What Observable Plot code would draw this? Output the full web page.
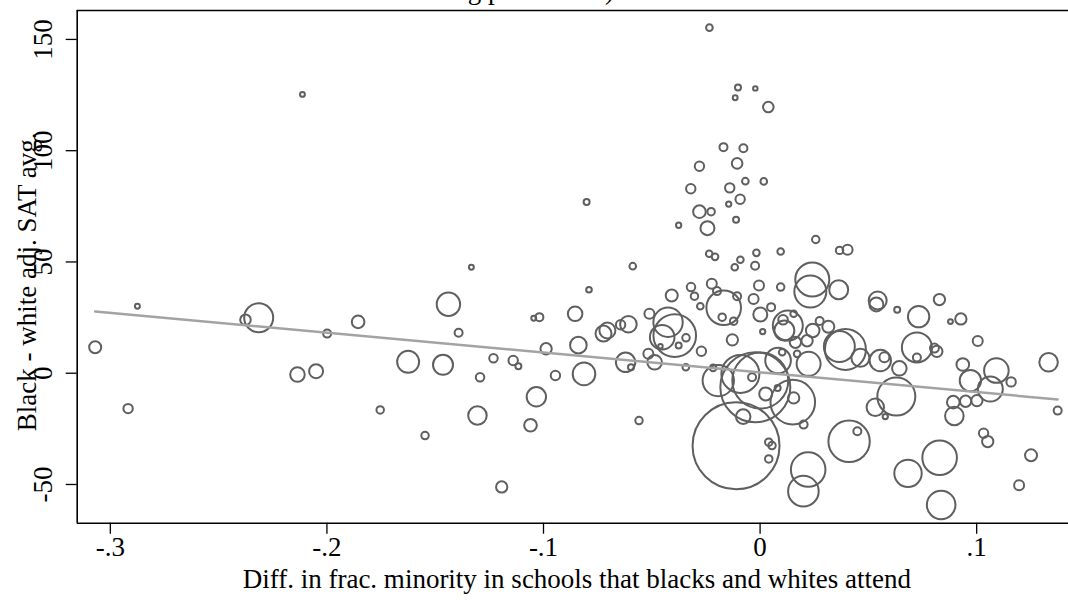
<!DOCTYPE html>
<html>
<head>
<meta charset="utf-8">
<script src="https://cdn.jsdelivr.net/npm/d3@7"></script>
<script src="https://cdn.jsdelivr.net/npm/@observablehq/plot@0.6"></script>
<style>
  html, body { margin: 0; padding: 0; background: #fff; }
  #wrap { position: relative; width: 1068px; height: 600px; overflow: hidden; }
  #title { position: absolute; left: 0; top: 0; }
</style>
</head>
<body>
<div id="wrap"></div>
<script>
// Difference in fraction minority in schools that blacks and whites attend
const diffMinority = [
  -0.307, -0.2875, -0.2918, -0.2376, -0.2315, -0.1999, -0.1856, -0.2136, -0.205, -0.1754,
  -0.2113, -0.1333, -0.1439, -0.1392, -0.1625, -0.1464, -0.1231, -0.1293, -0.114, -0.1116,
  -0.1547, -0.1305, -0.1193, -0.1033, -0.106, -0.0945, -0.0988, -0.1045, -0.1019, -0.0854,
  -0.079, -0.0839, -0.0813, -0.0723, -0.0705, -0.0644, -0.0608, -0.0621, -0.0596, -0.0511,
  -0.0425, -0.0394, -0.0452, -0.0376, -0.0342, -0.046, -0.0516, -0.0487, -0.0408, -0.0319,
  -0.0303, -0.0276, -0.0223, -0.0199, -0.0168, -0.0175, -0.0122, -0.0106, -0.003, -0.0005,
  0.0095, 0.0001, 0.0051, 0.0012, -0.0128, -0.0217, -0.0343, -0.0271, -0.0193, -0.0091,
  -0.0022, 0.0001, 0.0026, 0.0081, -0.0037, -0.0078, 0.0151, 0.0155, 0.0201, 0.0083,
  0.0224, -0.0111, 0.004, 0.0055, 0.004, -0.0559, 0.0222, 0.02, 0.0411, 0.0449,
  0.0241, 0.0232, 0.0363, 0.0106, 0.0155, 0.0128, 0.0112, 0.0163, 0.0243, 0.0275,
  0.0315, 0.0217, 0.0366, 0.0394, 0.0102, 0.0171, -0.0234, -0.0102, -0.0022, -0.0115,
  0.0038, -0.0169, -0.0077, -0.0106, -0.028, -0.032, -0.014, -0.0068, 0.0017, -0.0092,
  -0.0145, -0.0801, -0.028, -0.0226, -0.0111, -0.0376, -0.0243, 0.0257, 0.0367, 0.0404,
  -0.0588, -0.0235, -0.0208, -0.0017, -0.0091, -0.0117, -0.0023, 0.0095, 0.0543, 0.0537,
  0.0633, 0.0828, 0.0732, 0.0879, 0.0927, 0.1005, 0.0724, 0.0724, 0.0805, 0.0816,
  0.0463, 0.0555, 0.0574, 0.0643, 0.0629, 0.0532, 0.0578, 0.0936, 0.0971, 0.1091,
  0.1063, 0.0892, 0.0949, 0.1001, 0.0897, 0.1159, 0.1332, 0.1374, 0.1032, 0.1051,
  0.1251, 0.1196, 0.0829, 0.0683, 0.0836
];
// Black - white adjusted SAT average
const satGap = [
  11.7, 30.1, -15.9, 24.0, 24.9, 17.8, 23.1, -0.6, 0.9, -16.5,
  125.3, 47.6, 31.0, 18.2, 5.1, 3.8, 6.7, -1.8, 5.7, 3.1,
  -28.0, -19.0, -51.1, -10.6, -23.4, -1.0, 11.0, 24.7, 25.2, 26.7,
  37.5, 12.6, -0.3, 17.8, 19.2, 21.8, 22.0, 4.9, 2.7, 26.7,
  22.9, 16.9, 16.2, 12.5, 15.9, 12.1, 8.7, 4.9, 34.9, 38.7,
  34.6, 30.1, 40.2, 36.9, 29.4, 25.2, 23.4, 34.6, 33.4, 39.4,
  38.7, 26.4, 29.7, 18.7, 15.0, 2.4, 2.7, 9.9, -3.3, -0.3,
  -6.3, -3.3, -9.3, -6.6, -1.8, -19.5, -13.0, -11.1, -23.1, 5.7,
  4.2, -32.6, -31.0, -32.5, -38.5, -21.3, -43.3, -53.0, -30.6, -26.1,
  42.1, 36.7, 37.5, 24.0, 26.7, 21.4, 19.2, 13.9, 19.2, 23.5,
  20.9, 14.6, 12.0, 10.7, 9.4, 8.7, 155.3, 128.4, 128.0, 123.8,
  119.6, 101.6, 101.1, 94.3, 93.0, 82.9, 83.3, 86.3, 86.2, 78.2,
  76.0, 76.9, 72.6, 72.6, 69.0, 66.5, 65.2, 60.1, 55.2, 55.5,
  48.1, 53.7, 52.3, 54.1, 51.0, 47.6, 48.3, 54.7, 32.7, 30.9,
  28.5, 33.1, 25.4, 23.2, 24.4, 14.5, 11.6, 7.1, 11.3, 9.8,
  6.9, 5.7, 7.2, 2.2, -10.5, -15.3, -19.5, 3.9, -3.3, 1.2,
  -7.1, -13.0, -12.6, -12.3, -19.2, -3.9, 4.9, -16.8, -27.0, -30.7,
  -36.9, -50.3, -38.0, -45.0, -59.2
];
// Weights (circle area)
const weights = [
  36, 6, 22, 28, 210, 16, 40, 53, 49, 14,
  6, 6, 137, 16, 121, 100, 18, 18, 22, 9,
  14, 86, 32, 94, 40, 22, 32, 6, 16, 53,
  8, 69, 128, 64, 64, 22, 69, 94, 9, 25,
  216, 454, 151, 9, 14, 5, 25, 53, 36, 18,
  14, 11, 25, 16, 299, 14, 14, 16, 25, 25,
  14, 49, 16, 7, 32, 11, 11, 22, 246, 361,
  1225, 784, 42, 9, 16, 53, 497, 32, 16, 164,
  144, 1892, 14, 14, 14, 14, 299, 234, 428, 16,
  289, 256, 90, 23, 11, 225, 100, 32, 46, 16,
  36, 32, 240, 420, 11, 11, 11, 9, 5, 6,
  28, 16, 16, 28, 22, 22, 22, 11, 11, 22,
  7, 9, 40, 14, 9, 7, 49, 14, 14, 25,
  11, 11, 11, 11, 11, 11, 16, 11, 81, 49,
  9, 32, 114, 6, 32, 25, 225, 16, 20, 32,
  81, 114, 25, 53, 361, 76, 7, 40, 114, 151,
  156, 40, 32, 32, 86, 22, 86, 16, 22, 32,
  36, 25, 299, 188, 204
];
// Fitted line endpoints
const fitX = [-0.307, 0.1374];
const fitY = [27.7, -11.8];

const xTicks = [-0.3, -0.2, -0.1, 0, 0.1];
const xTickLabels = ["-.3", "-.2", "-.1", "0", ".1"];
const yTicks = [-50, 0, 50, 100, 150];
const yTickLabels = ["-50", "0", "50", "100", "150"];

const xLabel = "Diff. in frac. minority in schools that blacks and whites attend";
const yLabel = "Black - white adj. SAT avg.";
const titleText = "Black - white SAT Scores Matching percentiles)";

const xDomain = [-0.3153, 0.1424];
const yDomain = [-67.4, 163.0];

const points = diffMinority.map((x, i) => ({x, y: satGap[i], w: weights[i]}));
const fit = fitX.map((x, i) => ({x, y: fitY[i]}));

const font = "'Liberation Serif', 'DejaVu Serif', serif";

const chart = Plot.plot({
  width: 1068,
  height: 600,
  marginLeft: 76.7,
  marginRight: 0,
  marginTop: 10,
  marginBottom: 77.3,
  style: {fontFamily: font, fontSize: "27px", background: "#fff", color: "#000", overflow: "hidden"},
  x: {domain: xDomain, axis: null},
  y: {domain: yDomain, axis: null},
  r: {type: "sqrt", domain: [0, 3600], range: [0, 60]},
  marks: [
    Plot.dot(points, {x: "x", y: "y", r: "w", stroke: "#5f5f5f", strokeWidth: 2, fill: "none", sort: null}),
    Plot.line(fit, {x: "x", y: "y", stroke: "#a3a3a3", strokeWidth: 2.5}),
    // frame (left, top, bottom)
    Plot.ruleX([xDomain[0]], {stroke: "#000", strokeWidth: 1.6}),
    Plot.ruleY([yDomain[0], yDomain[1]], {stroke: "#000", strokeWidth: 1.6}),
    Plot.axisX({ticks: xTicks, tickFormat: d => xTickLabels[xTicks.indexOf(d)], tickSize: 11, tickPadding: 3, label: null, fontSize: 27, strokeWidth: 1.3}),
    Plot.axisY({ticks: yTicks, tickFormat: () => "", tickSize: 11, label: null, strokeWidth: 1.3}),
    Plot.text(yTicks, {y: d => d, text: (d, i) => yTickLabels[i], frameAnchor: "left", dx: -25, rotate: -90, lineAnchor: "bottom", textAnchor: "middle", fontSize: 27}),
    Plot.text([yLabel], {text: d => d, frameAnchor: "left", dx: -41, dy: 15, rotate: -90, lineAnchor: "bottom", textAnchor: "middle", fontSize: 27}),
    Plot.text([xLabel], {text: d => d, frameAnchor: "bottom", dx: 4, dy: 56, lineAnchor: "middle", textAnchor: "middle", fontSize: 27})
  ]
});

const wrap = document.getElementById("wrap");
wrap.appendChild(chart);

// clipped title above the plot region
const ns = "http://www.w3.org/2000/svg";
const tsvg = document.createElementNS(ns, "svg");
tsvg.setAttribute("id", "title");
tsvg.setAttribute("width", 1068);
tsvg.setAttribute("height", 12);
const t = document.createElementNS(ns, "text");
t.setAttribute("x", 614);
t.setAttribute("y", -1);
t.setAttribute("text-anchor", "end");
t.setAttribute("font-family", font);
t.setAttribute("font-size", 27);
t.textContent = titleText;
tsvg.appendChild(t);
wrap.appendChild(tsvg);
</script>
</body>
</html>
